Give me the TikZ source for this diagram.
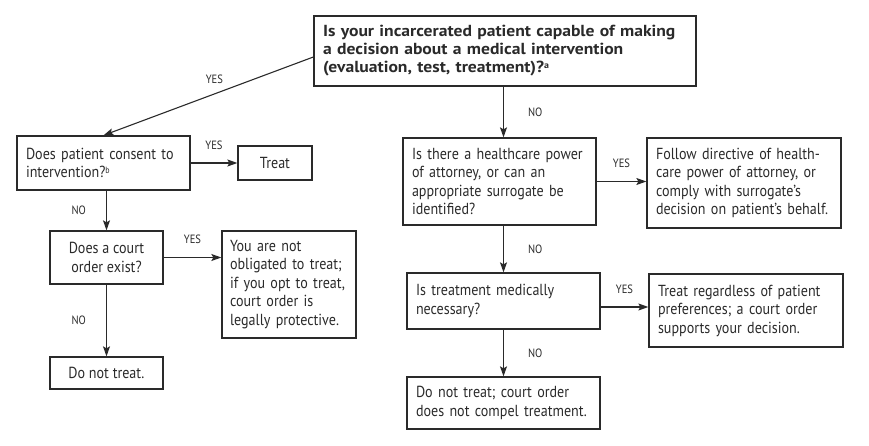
\documentclass[tikz,border=0pt]{standalone}
\usepackage{fontspec}
\newfontfamily\bodyfont{PT Sans}[FakeStretch=0.88]
\newfontfamily\headfont{PT Sans}[FakeStretch=1.1]
\usetikzlibrary{arrows.meta,positioning,calc}
\definecolor{ink}{HTML}{2A2A2A}
\newcommand\myfnmark[1]{\raisebox{0.6ex}{\fontsize{9}{9}\selectfont #1}}
\begin{document}
\begin{tikzpicture}[x=1pt,y=-1pt,
 box/.style={draw=ink, line width=1.3pt, text=ink, inner xsep=9pt, inner ysep=3pt, align=left,
   font=\bodyfont\fontsize{16}{18.5}\selectfont},
 headbox/.style={box, font=\headfont\bfseries\fontsize{16}{18}\selectfont},
 arr/.style={draw=ink, line width=1.1pt, -{Stealth[length=10pt,width=7pt,inset=2pt]}},
 lbl/.style={text=ink, inner sep=0pt, font=\bodyfont\fontsize{12}{13}\selectfont}]
\useasboundingbox (0,0) rectangle (869,446);

\node[headbox, text width=364pt, minimum height=70pt] (q) at (505,51)
  {Is your incarcerated patient capable of making\\a decision about a medical intervention\\(evaluation, test, treatment)?\myfnmark{a}};

\node[box, text width=155pt, minimum height=54pt] (consent) at (103.5,163)
  {Does patient consent to\\intervention?\myfnmark{b}};
\node[box, align=center, minimum width=74pt, minimum height=34pt] (treat) at (275,163) {Treat};
\node[box, align=center, minimum width=113pt, minimum height=53pt] (court) at (106.5,257.5)
  {Does a court\\order exist?};
\node[box, inner xsep=8pt, text width=118pt, minimum height=107pt] (notob) at (289,284.5)
  {You are not\\obligated to treat;\\if you opt to treat,\\court order is\\legally protective.};
\node[box, align=center, minimum width=113pt, minimum height=32pt] (donot) at (106.5,373) {Do not treat.};

\node[box, text width=175pt, minimum height=87pt] (hcpoa) at (499.5,181.5)
  {Is there a healthcare power\\of attorney, or can an\\appropriate surrogate be\\identified?};
\node[box, text width=176pt, minimum height=90pt] (follow) at (744,183)
  {Follow directive of health-\\care power of attorney, or\\comply with surrogate’s\\decision on patient’s behalf.};
\node[box, text width=175pt, minimum height=56pt] (medic) at (503.5,301)
  {Is treatment medically\\necessary?};
\node[box, text width=176pt, minimum height=73pt] (regardless) at (746,310.5)
  {Treat regardless of patient\\preferences; a court order\\supports your decision.};
\node[box, text width=175pt, minimum height=52pt] (donot2) at (503.5,403)
  {Do not treat; court order\\does not compel treatment.};

\draw[arr] ([yshift=-6pt]q.west) -- node[lbl, above=12pt, xshift=6pt] (l1) {YES} (consent.north);
\draw[arr] (consent) -- node[lbl, above=13pt] (l2) {YES} (treat);
\draw[arr] (consent.south -| court.north) -- node[lbl, left=20pt] (l3) {NO} (court.north);
\draw[arr] (court.east) -- node[lbl, above=13pt] (l4) {YES} (court.east -| notob.west);
\draw[arr] (court) -- node[lbl, left=20pt] (l5) {NO} (donot);
\draw[arr] (q.south -| medic.north) -- node[lbl, right=24pt] (l6) {NO} (hcpoa.north -| medic.north);
\draw[arr] (hcpoa.east) -- node[lbl, above=13pt] (l7) {YES} (hcpoa.east -| follow.west);
\draw[arr] (hcpoa.south -| medic.north) -- node[lbl, right=24pt] (l8) {NO} (medic.north);
\draw[arr] ([yshift=-6pt]medic.east) -- node[lbl, above=13pt] (l9) {YES} ([yshift=-6pt]medic.east -| regardless.west);
\draw[arr] (medic) -- node[lbl, right=24pt] (l10) {NO} (donot2);
\end{tikzpicture}
\end{document}
